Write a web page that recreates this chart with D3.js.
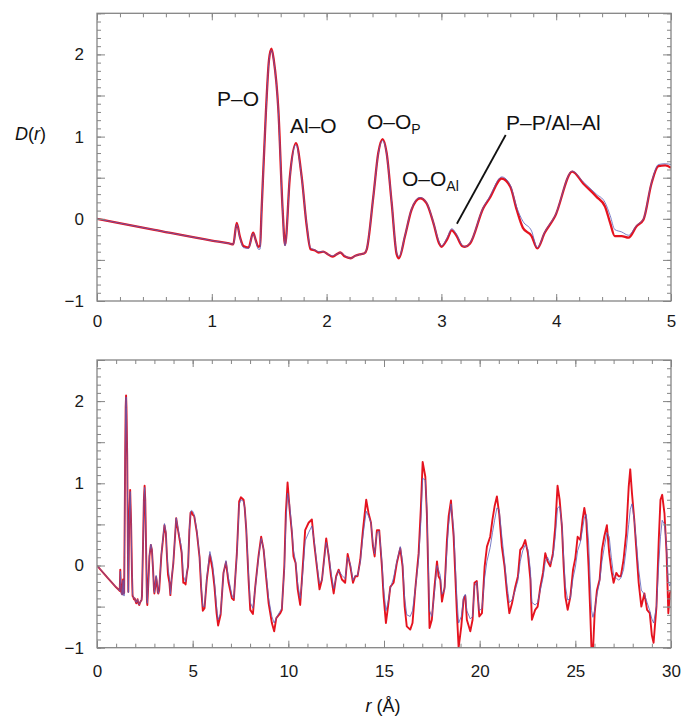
<!DOCTYPE html>
<html><head><meta charset="utf-8">
<script src="https://cdn.jsdelivr.net/npm/d3@7"></script>
<style>body{margin:0;background:#fff}svg{display:block}</style>
</head><body>
<script>
// ---- Data: short range (0–5 Å) ----
const rTop = [0,0.5,1.0,1.15,1.187,1.217,1.245,1.275,1.32,1.36,1.385,1.405,1.42,
1.434,1.472,1.498,1.52,1.54,1.58,1.617,1.638,1.68,1.733,
1.783,1.827,1.86,1.9,1.93,1.97,2.01,2.05,2.09,2.12,
2.16,2.21,2.25,2.30,2.33,2.35,2.407,2.45,2.488,2.523,
2.567,2.61,2.63,2.683,2.74,2.814,2.87,2.93,2.98,3.0,
3.05,3.09,3.133,3.18,3.205,3.25,3.365,3.42,3.525,3.6,
3.656,3.71,3.786,3.835,3.90,3.99,4.14,4.235,4.35,4.425,
4.47,4.51,4.57,4.63,4.70,4.76,4.83,4.89,4.95,5.0];
const redTop = [0,-0.134,-0.265,-0.30,-0.31,-0.05,-0.22,-0.33,-0.35,-0.17,-0.27,-0.34,-0.33,
0.11,1.32,1.93,2.07,1.93,1.32,0.11,-0.32,0.51,0.92,
0.51,-0.09,-0.37,-0.385,-0.41,-0.40,-0.43,-0.46,-0.43,-0.41,
-0.46,-0.48,-0.45,-0.43,-0.42,-0.37,0.27,0.80,0.97,0.80,
0.19,-0.43,-0.48,-0.21,0.11,0.25,0.19,-0.05,-0.30,-0.34,
-0.25,-0.14,-0.21,-0.33,-0.34,-0.30,0.13,0.25,0.49,0.39,
0.11,-0.11,-0.21,-0.36,-0.17,0.03,0.575,0.43,0.27,0.15,
-0.05,-0.21,-0.21,-0.23,-0.09,-0.01,0.43,0.64,0.65,0.62];
const blueTop = [0,-0.134,-0.265,-0.30,-0.31,-0.07,-0.23,-0.35,-0.36,-0.18,-0.28,-0.37,-0.37,
0.10,1.30,1.92,2.05,1.92,1.30,0.10,-0.33,0.50,0.90,
0.50,-0.07,-0.35,-0.38,-0.40,-0.40,-0.43,-0.45,-0.43,-0.41,
-0.45,-0.48,-0.45,-0.43,-0.42,-0.36,0.27,0.79,0.95,0.79,
0.20,-0.41,-0.46,-0.20,0.12,0.26,0.20,-0.04,-0.28,-0.33,
-0.23,-0.12,-0.19,-0.32,-0.34,-0.29,0.14,0.27,0.51,0.41,
0.14,-0.03,-0.15,-0.35,-0.16,0.04,0.58,0.45,0.30,0.20,
0.04,-0.13,-0.16,-0.20,-0.08,0.00,0.44,0.66,0.67,0.66];

// ---- Data: long range continuation (5–30 Å) ----
const rLong = [5.08,5.22,5.36,5.45,5.53,5.62,5.74,5.90,6.04,6.14,
6.25,6.33,6.46,6.61,6.74,6.87,7.05,7.15,7.31,7.43,
7.52,7.66,7.72,7.80,7.92,8.01,8.15,8.27,8.44,8.58,
8.71,8.85,8.97,9.14,9.26,9.37,9.58,9.66,9.79,9.87,
9.96,10.07,10.19,10.27,10.38,10.49,10.62,10.71,10.88,11.06,
11.23,11.35,11.49,11.63,11.76,11.98,12.11,12.23,12.37,12.50,
12.63,12.80,12.97,13.10,13.24,13.38,13.50,13.62,13.76,13.90,
14.07,14.19,14.32,14.42,14.51,14.63,14.75,14.89,14.98,15.10,
15.21,15.33,15.50,15.67,15.85,15.97,16.08,16.19,16.37,16.49,
16.63,16.81,16.93,17.02,17.16,17.24,17.33,17.38,17.50,17.64,
17.77,17.85,17.94,18.03,18.17,18.29,18.38,18.50,18.64,18.72,
18.81,18.90,19.04,19.16,19.25,19.33,19.51,19.63,19.73,19.85,
19.98,20.12,20.26,20.38,20.55,20.67,20.78,20.90,21.02,21.16,
21.30,21.43,21.55,21.69,21.86,22.00,22.12,22.25,22.38,22.52,
22.65,22.73,22.90,23.03,23.17,23.31,23.43,23.55,23.69,23.83,
23.95,24.07,24.18,24.30,24.39,24.48,24.60,24.74,24.88,25.00,
25.12,25.26,25.38,25.47,25.57,25.69,25.78,25.85,25.92,26.01,
26.13,26.27,26.39,26.51,26.65,26.77,26.88,27.00,27.14,27.26,
27.38,27.52,27.66,27.79,27.87,27.96,28.08,28.19,28.31,28.45,
28.61,28.75,28.89,29.00,29.09,29.24,29.36,29.45,29.54,29.66,
29.77,29.86,29.94,30.0];
const redLong = [0.60,0.40,0.10,-0.30,-0.55,-0.52,-0.17,0.13,-0.05,-0.26,
-0.58,-0.73,-0.60,-0.09,0.04,-0.20,-0.40,-0.42,0.15,0.78,
0.83,0.80,0.70,0.44,-0.17,-0.54,-0.59,-0.26,0.11,0.35,
0.19,-0.17,-0.46,-0.70,-0.80,-0.64,-0.58,-0.54,-0.01,0.64,
1.01,0.68,0.39,0.11,0.03,-0.29,-0.48,-0.17,0.43,0.52,
0.56,0.27,-0.01,-0.29,-0.17,0.33,0.11,-0.13,-0.34,-0.13,
-0.05,-0.17,-0.21,0.14,-0.01,-0.21,-0.13,-0.13,0.07,0.43,
0.80,0.64,0.52,0.24,0.11,0.43,0.43,-0.01,-0.38,-0.70,
-0.50,-0.26,-0.21,0.03,0.21,-0.01,-0.50,-0.74,-0.78,-0.70,
-0.30,0.15,0.72,1.26,1.08,0.63,-0.26,-0.76,-0.66,-0.26,
0.05,-0.13,-0.17,-0.44,-0.26,0.31,0.60,0.79,0.35,-0.09,
-0.58,-1.00,-0.74,-0.41,-0.37,-0.66,-0.80,-0.66,-0.21,-0.19,
-0.62,-0.58,-0.01,0.23,0.35,0.56,0.72,0.84,0.63,0.23,
-0.01,-0.34,-0.58,-0.46,-0.26,-0.13,0.19,0.23,0.31,0.15,
-0.17,-0.66,-0.54,-0.50,-0.26,-0.09,0.15,0.05,-0.01,0.15,
0.47,0.97,0.80,0.47,-0.01,-0.38,-0.54,-0.38,-0.05,0.09,
0.35,0.31,0.56,0.70,0.56,-0.01,-0.58,-1.05,-1.05,-0.58,
-0.30,-0.17,0.19,0.35,0.49,0.15,-0.05,-0.21,-0.09,-0.13,
-0.13,0.07,0.39,0.96,1.17,0.88,0.56,0.19,-0.21,-0.50,
-0.34,-0.54,-0.58,-0.85,-0.94,-0.50,0.31,0.80,0.86,0.63,
0.15,-0.58,-0.34,-0.30];
const blueLong = [0.62,0.42,0.12,-0.25,-0.50,-0.50,-0.15,0.17,0.02,-0.20,
-0.50,-0.66,-0.58,-0.10,0.06,-0.15,-0.36,-0.40,0.12,0.74,
0.80,0.78,0.70,0.46,-0.10,-0.45,-0.52,-0.28,0.09,0.33,
0.20,-0.12,-0.40,-0.62,-0.70,-0.64,-0.55,-0.52,-0.05,0.50,
0.88,0.74,0.42,0.18,0.05,-0.22,-0.40,-0.22,0.30,0.40,
0.48,0.30,0.02,-0.22,-0.18,0.28,0.14,-0.08,-0.28,-0.15,
-0.06,-0.12,-0.16,0.10,0.02,-0.18,-0.12,-0.12,0.04,0.36,
0.66,0.60,0.52,0.28,0.14,0.40,0.42,0.05,-0.28,-0.55,
-0.45,-0.28,-0.15,0.05,0.23,0.05,-0.40,-0.60,-0.62,-0.55,
-0.30,0.08,0.55,1.06,1.04,0.70,-0.10,-0.55,-0.62,-0.32,
0.00,-0.05,-0.12,-0.35,-0.30,0.20,0.50,0.75,0.45,0.05,
-0.40,-0.70,-0.62,-0.38,-0.35,-0.55,-0.65,-0.62,-0.25,-0.20,
-0.55,-0.52,-0.15,0.05,0.22,0.40,0.55,0.70,0.68,0.35,
0.05,-0.25,-0.45,-0.42,-0.30,-0.18,0.05,0.18,0.25,0.20,
-0.05,-0.45,-0.48,-0.45,-0.30,-0.15,0.05,0.10,0.02,0.10,
0.35,0.70,0.72,0.50,0.10,-0.25,-0.42,-0.40,-0.15,-0.02,
0.18,0.28,0.45,0.58,0.62,0.30,-0.20,-0.55,-0.63,-0.55,
-0.35,-0.20,0.05,0.22,0.40,0.35,0.10,-0.12,-0.15,-0.18,
-0.15,-0.05,0.20,0.50,0.68,0.75,0.55,0.28,-0.05,-0.30,
-0.35,-0.45,-0.55,-0.65,-0.70,-0.50,0.02,0.35,0.55,0.50,
0.22,-0.20,-0.25,-0.20];

const yTickLabels = [-1,0,1,2];
const xTickLabelsTop = [0,1,2,3,4,5];
const xTickLabelsBottom = [0,5,10,15,20,25,30];

const annotations = [
  {main:"P–O", sub:"", x:217, y:106},
  {main:"Al–O", sub:"", x:290, y:133},
  {main:"O–O", sub:"P", x:367, y:129},
  {main:"O–O", sub:"Al", x:402, y:186},
  {main:"P–P/Al–Al", sub:"", x:506, y:130}
];
const leader = [[3.56, 1.02],[3.135,-0.06]];

// ---- Drawing ----
const W=684,H=717;
const svg=d3.select("body").append("svg").attr("width",W).attr("height",H)
  .style("font-family","'Liberation Sans', Arial, sans-serif");
const RED="#e5131f", BLUE="#5b5fba", GRAY="#858585";

function panel(cfg){
  const x=d3.scaleLinear().domain(cfg.xd).range([97,671]);
  const y=d3.scaleLinear().domain([-1,2.5]).range(cfg.yr);
  const g=svg.append("g");
  const id="clip"+cfg.id;
  svg.append("clipPath").attr("id",id).append("rect")
    .attr("x",97).attr("y",cfg.yr[1]).attr("width",574).attr("height",cfg.yr[0]-cfg.yr[1]);
  const rng=d3.range(0,cfg.r.length);
  const lineR=d3.line().x(i=>x(cfg.r[i])).y(i=>y(cfg.red[i])).curve(cfg.curve);
  const lineB=d3.line().x(i=>x(cfg.r[i])).y(i=>y(cfg.blue[i])).curve(cfg.curve);
  const lg=g.append("g").attr("clip-path",`url(#${id})`);
  lg.append("path").attr("d",lineR(rng)).attr("fill","none").attr("stroke",RED)
    .attr("stroke-width",cfg.rw).attr("stroke-linejoin","round");
  lg.append("path").attr("d",lineB(rng)).attr("fill","none").attr("stroke",BLUE)
    .attr("stroke-width",0.9).attr("stroke-opacity",0.9).attr("stroke-linejoin","round");

  const y0=cfg.yr[0], y1=cfg.yr[1];
  const yMinor=d3.range(-1,2.5001,0.1).map(v=>+v.toFixed(2));
  const yMajor=d3.range(-1,2.5001,0.5).map(v=>+v.toFixed(2));
  const xMinor=d3.range(cfg.xd[0],cfg.xd[1]+1e-6,cfg.xminor).map(v=>+v.toFixed(2));
  const xMajor=cfg.xlabels;
  const noLab=()=>"";
  function ax(a,pos,tv,size,fmt,pad){
    const gg=g.append("g").attr("transform",pos)
      .call(a.tickValues(tv).tickSize(-size).tickPadding(pad||3).tickFormat(fmt));
    gg.select(".domain").remove();
    gg.selectAll("line").attr("stroke",GRAY).attr("stroke-width",1);
    return gg;
  }
  ax(d3.axisLeft(y),"translate(97,0)",yMinor,4,noLab);
  ax(d3.axisRight(y),"translate(671,0)",yMinor,4,noLab);
  ax(d3.axisRight(y),"translate(671,0)",yMajor,8,noLab);
  const la=ax(d3.axisLeft(y),"translate(97,0)",yMajor,8,
      d=>Number.isInteger(d)?d3.format("")(d):"",13);
  ax(d3.axisTop(x),`translate(0,${y1})`,xMinor,4,noLab);
  ax(d3.axisTop(x),`translate(0,${y1})`,xMajor,7,noLab);
  ax(d3.axisBottom(x),`translate(0,${y0})`,xMinor,4,noLab);
  const ba=ax(d3.axisBottom(x),`translate(0,${y0})`,xMajor,7,d3.format(""),cfg.xpad);
  [la,ba].forEach(s=>s.selectAll("text").attr("font-size",17).attr("fill","#1a1a1a")
     .style("font-family","'Liberation Sans', Arial, sans-serif"));
  g.append("rect").attr("x",97).attr("y",y1).attr("width",574).attr("height",y0-y1)
    .attr("fill","none").attr("stroke",GRAY).attr("stroke-width",1.3);
  return {x,y,g};
}

const topP=panel({id:"t",xd:[0,5],yr:[301,13.3],r:rTop,red:redTop,blue:blueTop,
  curve:d3.curveMonotoneX,rw:2.3,xminor:0.2,xlabels:xTickLabelsTop,xpad:14});
const botP=panel({id:"b",xd:[0,30],yr:[647.7,360],r:rTop.concat(rLong),
  red:redTop.concat(redLong),blue:blueTop.concat(blueLong),
  curve:d3.curveLinear,rw:1.9,xminor:1,xlabels:xTickLabelsBottom,xpad:17});

// annotations
annotations.forEach(a=>{
  const t=svg.append("text").attr("x",a.x).attr("y",a.y).attr("font-size",21).attr("fill","#111");
  t.append("tspan").text(a.main);
  if(a.sub) t.append("tspan").attr("font-size",14).attr("dy",5).text(a.sub);
});
svg.append("line").attr("x1",topP.x(leader[0][0])).attr("y1",topP.y(leader[0][1]))
  .attr("x2",topP.x(leader[1][0])).attr("y2",topP.y(leader[1][1]))
  .attr("stroke","#111").attr("stroke-width",1.8);

// axis titles
const dl=svg.append("text").attr("x",46).attr("y",140).attr("text-anchor","end")
  .attr("font-size",18).attr("fill","#111");
dl.append("tspan").attr("font-style","italic").text("D");
dl.append("tspan").text("(");
dl.append("tspan").attr("font-style","italic").text("r");
dl.append("tspan").text(")");
const rl=svg.append("text").attr("x",383).attr("y",712).attr("text-anchor","middle")
  .attr("font-size",18).attr("fill","#111");
rl.append("tspan").attr("font-style","italic").text("r");
rl.append("tspan").text(" (Å)");
</script>
</body></html>
